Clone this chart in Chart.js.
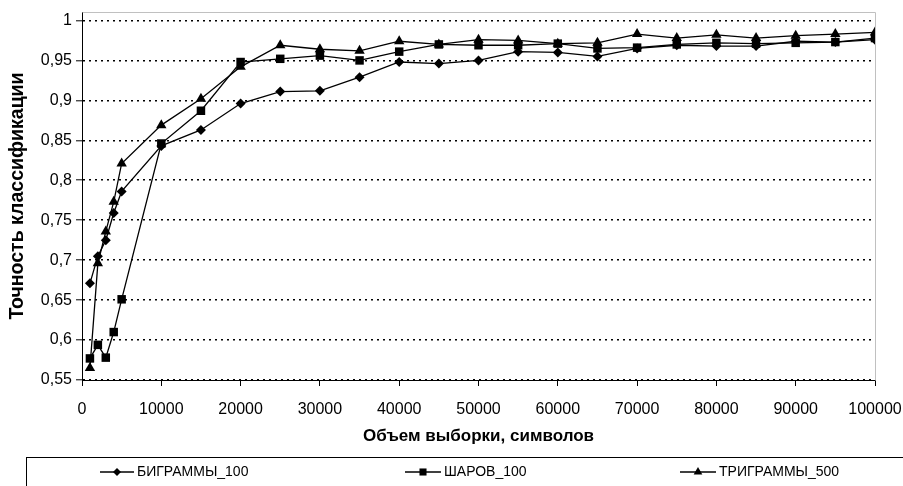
<!DOCTYPE html>
<html>
<head>
<meta charset="utf-8">
<script src="https://cdn.jsdelivr.net/npm/chart.js@4/dist/chart.umd.min.js"></script>
<style>
  html, body { margin: 0; padding: 0; background: #fff; }
  #wrap { width: 903px; height: 486px; position: relative; }
</style>
</head>
<body>
<div id="wrap"><canvas id="c" width="903" height="486"></canvas></div>
<script>
// Sample size (characters) and classification accuracy for three models
const sampleSizes = [1000, 2000, 3000, 4000, 5000, 10000, 15000, 20000, 25000, 30000, 35000, 40000,
  45000, 50000, 55000, 60000, 65000, 70000, 75000, 80000, 85000, 90000, 95000, 100000];
const bigrams100 = [0.671, 0.705, 0.725, 0.759, 0.786, 0.843, 0.863, 0.896, 0.911, 0.912, 0.929, 0.948,
  0.946, 0.950, 0.961, 0.960, 0.955, 0.965, 0.969, 0.968, 0.968, 0.974, 0.973, 0.976];
const sharov100 = [0.577, 0.594, 0.578, 0.610, 0.651, 0.846, 0.887, 0.948, 0.952, 0.956, 0.950, 0.961,
  0.970, 0.969, 0.969, 0.971, 0.965, 0.966, 0.970, 0.972, 0.971, 0.972, 0.973, 0.978];
const trigrams500 = [0.565, 0.696, 0.736, 0.773, 0.821, 0.869, 0.902, 0.942, 0.969, 0.964, 0.962, 0.974,
  0.970, 0.976, 0.975, 0.971, 0.972, 0.983, 0.978, 0.982, 0.978, 0.981, 0.983, 0.985];
const seriesNames = ['БИГРАММЫ_100', 'ШАРОВ_100', 'ТРИГРАММЫ_500'];
const xTickValues = [0, 10000, 20000, 30000, 40000, 50000, 60000, 70000, 80000, 90000, 100000];
const yTickValues = [0.55, 0.6, 0.65, 0.7, 0.75, 0.8, 0.85, 0.9, 0.95, 1];
const xTitle = 'Объем выборки, символов';
const yTitle = 'Точность классификации';

const FONT = 'Liberation Sans, Arial, sans-serif';
const markerStyles = ['rectRot', 'rect', 'triangle'];
const markerRadius = [5, 6, 6];

function toPoints(values) {
  return sampleSizes.map((x, i) => ({ x: x, y: values[i] }));
}

const seriesValues = [bigrams100, sharov100, trigrams500];
const datasets = seriesValues.map((vals, i) => ({
  label: seriesNames[i],
  data: toPoints(vals),
  borderColor: '#000',
  backgroundColor: '#000',
  borderWidth: 1.3,
  pointStyle: markerStyles[i],
  pointRadius: markerRadius[i],
  pointBackgroundColor: '#000',
  pointBorderColor: '#000',
  pointBorderWidth: 0,
  tension: 0,
  order: 3 - i
}));

// Light grey frame along the top and right of the plot area
const plotFrame = {
  id: 'plotFrame',
  beforeDatasetsDraw(chart) {
    const { ctx, chartArea: a } = chart;
    ctx.save();
    ctx.strokeStyle = '#c0c0c0';
    ctx.lineWidth = 1;
    ctx.beginPath();
    ctx.moveTo(Math.round(a.left) + 0.5, Math.round(a.top) + 0.5);
    ctx.lineTo(Math.round(a.right) + 0.5, Math.round(a.top) + 0.5);
    ctx.lineTo(Math.round(a.right) + 0.5, Math.round(a.bottom) + 0.5);
    ctx.stroke();
    ctx.restore();
  }
};

function drawMarker(ctx, style, x, y, r) {
  ctx.beginPath();
  if (style === 'rectRot') {
    ctx.moveTo(x - r, y); ctx.lineTo(x, y - r); ctx.lineTo(x + r, y); ctx.lineTo(x, y + r);
  } else if (style === 'rect') {
    const s = r * Math.SQRT1_2;
    ctx.rect(x - s, y - s, 2 * s, 2 * s);
  } else {
    const h = r;
    ctx.moveTo(x, y - h);
    ctx.lineTo(x + h * 0.866, y + h * 0.5);
    ctx.lineTo(x - h * 0.866, y + h * 0.5);
  }
  ctx.closePath();
  ctx.fill();
}

// Legend row in a box along the bottom edge
const legendBox = {
  id: 'legendBox',
  afterDraw(chart) {
    const ctx = chart.ctx;
    const rowY = 472;
    const items = [
      { lineFrom: 100, lineTo: 134, text: 137 },
      { lineFrom: 405, lineTo: 441, text: 444 },
      { lineFrom: 680, lineTo: 716, text: 719 }
    ];
    ctx.save();
    ctx.strokeStyle = '#000';
    ctx.lineWidth = 1;
    ctx.strokeRect(26.5, 457.5, 900, 60);
    ctx.font = '14px ' + FONT;
    ctx.textBaseline = 'middle';
    ctx.fillStyle = '#000';
    items.forEach((it, i) => {
      ctx.lineWidth = 1.3;
      ctx.beginPath();
      ctx.moveTo(it.lineFrom, rowY);
      ctx.lineTo(it.lineTo, rowY);
      ctx.stroke();
      drawMarker(ctx, markerStyles[i], (it.lineFrom + it.lineTo) / 2, rowY, markerRadius[i] - 1);
      ctx.fillText(seriesNames[i], it.text, rowY);
    });
    ctx.restore();
  }
};

new Chart(document.getElementById('c'), {
  type: 'line',
  data: { datasets: datasets },
  plugins: [plotFrame, legendBox],
  options: {
    responsive: false,
    animation: false,
    devicePixelRatio: 1,
    layout: { padding: { top: 12, right: 28, bottom: 39, left: 0 } },
    plugins: { legend: { display: false }, tooltip: { enabled: false } },
    scales: {
      x: {
        type: 'linear',
        min: 0,
        max: 100000,
        afterBuildTicks(scale) { scale.ticks = xTickValues.map(v => ({ value: v })); },
        afterFit(scale) { scale.height = 67; scale.paddingRight = 0; scale.paddingLeft = 0; },
        ticks: {
          callback: v => String(v),
          color: '#000',
          font: { family: FONT, size: 16 },
          maxRotation: 0,
          autoSkip: false,
          padding: 14
        },
        grid: { drawOnChartArea: false, drawTicks: true, tickLength: 6, tickColor: '#000', tickWidth: 1 },
        border: { color: '#000', width: 1 },
        title: {
          display: true,
          text: xTitle,
          color: '#000',
          font: { family: FONT, size: 17, weight: 'bold' },
          padding: { top: 0, bottom: 0 }
        }
      },
      y: {
        type: 'linear',
        min: 0.55,
        max: 1.0106,
        afterBuildTicks(scale) { scale.ticks = yTickValues.map(v => ({ value: v })); },
        afterFit(scale) { scale.width = 82; scale.paddingTop = 0; scale.paddingBottom = 0; },
        ticks: {
          callback: v => String(Math.round(v * 100) / 100).replace('.', ','),
          color: '#000',
          font: { family: FONT, size: 16 },
          padding: 4
        },
        grid: {
          color: '#000',
          lineWidth: 1.6,
          tickBorderDash: [],
          tickLength: 6,
          tickColor: '#000',
          tickWidth: 1
        },
        border: { color: '#000', width: 1, dash: [2, 4] },
        title: {
          display: true,
          text: yTitle,
          color: '#000',
          font: { family: FONT, size: 19.5, weight: 'bold' },
          padding: { top: 6, bottom: 0 }
        }
      }
    }
  }
});
</script>
</body>
</html>
